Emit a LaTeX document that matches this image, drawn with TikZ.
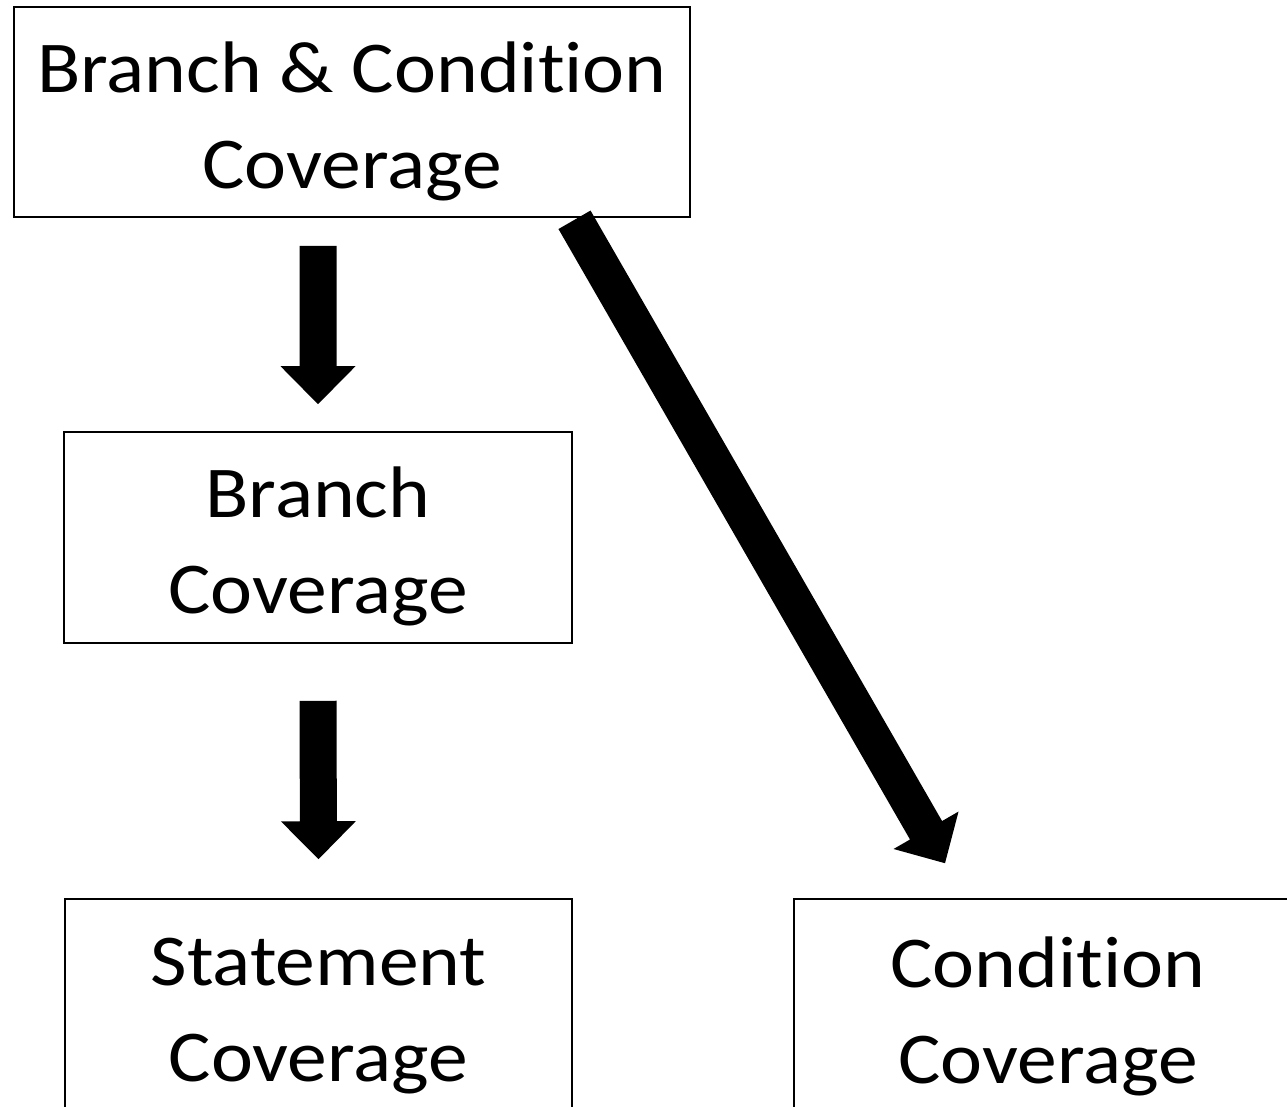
\documentclass[tikz,border=0pt]{standalone}
\usepackage{fontspec}
\setmainfont[FakeStretch=1.09, RawFeature={-liga}]{Carlito}
\usetikzlibrary{calc}
\tikzset{
  box/.style={draw=black, line width=1.6pt, fill=white, inner sep=0pt},
  boxtext/.style={align=center, inner sep=0pt, font=\fontsize{73}{96}\selectfont},
  blockfill/.style={fill=black}
}
\newcommand\blockarrowdraw[2]{%
  \path ($(#2)!38pt!(#1)$) coordinate (hb);
  \fill[blockfill] ($(#1)!18.5pt!90:(#2)$) -- ($(hb)!18.5pt!90:(#2)$) -- ($(hb)!37.5pt!90:(#2)$)
    -- (#2) -- ($(hb)!37.5pt!-90:(#2)$) -- ($(hb)!18.5pt!-90:(#2)$) -- ($(#1)!18.5pt!-90:(#2)$) -- cycle;
}
\begin{document}
\begin{tikzpicture}[x=1pt,y=-1pt]
\useasboundingbox (0,0) rectangle (1287,1107);
\clip (0,0) rectangle (1287,1107);
\fill[white] (0,0) rectangle (1287,1107);
\node[box, minimum width=676pt, minimum height=210pt] (top) at (352,112) {};
\node[box, minimum width=508pt, minimum height=211pt] (branch) at (318,537.5) {};
\node[box, minimum width=507pt, minimum height=211pt] (stmt) at (318.5,1004.5) {};
\node[box, minimum width=508pt, minimum height=211pt] (cond) at (1048,1004.5) {};
\node[boxtext] (topt) at ($(top.center)+(0,9)$) {Branch \& Condition\\Coverage};
\node[boxtext] (brancht) at ($(branch.center)+(0,9)$) {Branch\\Coverage};
\node[boxtext] (stmtt) at ($(stmt.center)+(0,12)$) {Statement\\Coverage};
\node[boxtext] (condt) at ($(cond.center)+(0,12)$) {Condition\\Coverage};
\coordinate (a1s) at ($(branch.north |- top.south)+(0,28)$);
\coordinate (a1t) at ($(branch.north)+(0,-27)$);
\coordinate (a2s) at ($(branch.south)+(0,57)$);
\coordinate (a2t) at ($(stmt.north)+(0,-39)$);
\coordinate (a3s) at ($(top.south)+(222.5,2)$);
\coordinate (a3t) at ($(cond.north)+(-103,-35)$);
\blockarrowdraw{a1s}{a1t}
\blockarrowdraw{a2s}{a2t}
\blockarrowdraw{a3s}{a3t}
\end{tikzpicture}
\end{document}
